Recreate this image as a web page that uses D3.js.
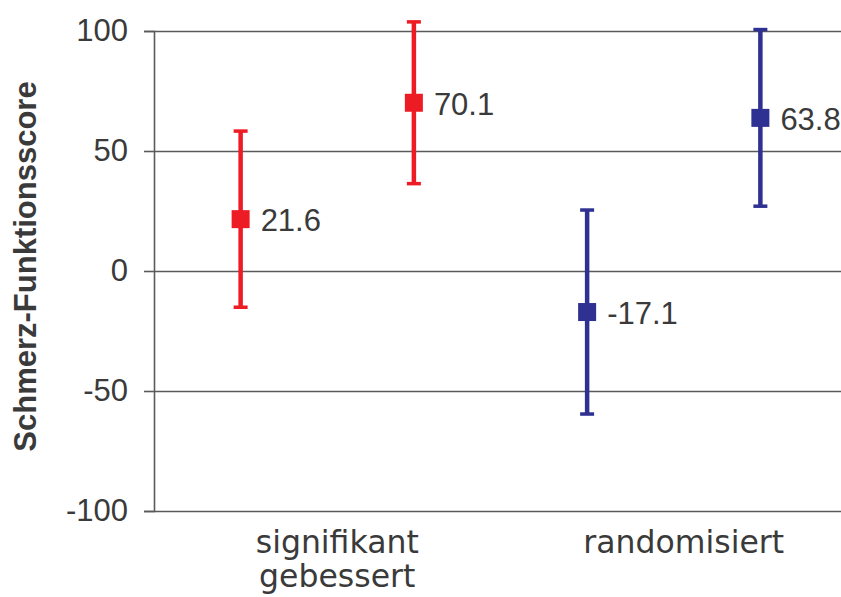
<!DOCTYPE html>
<html>
<head>
<meta charset="utf-8">
<script src="https://cdn.jsdelivr.net/npm/d3@7"></script>
<style>
  html, body { margin: 0; padding: 0; background: #fff; }
  svg { display: block; }
</style>
</head>
<body>
<svg id="chart" width="841" height="597"></svg>
<script>
// ---- data ----
const categories = ["signifikant gebessert", "randomisiert"];
const categoryLines = [["signifikant", "gebessert"], ["randomisiert"]];
const pointCategory = [0, 0, 1, 1];
const pointSlot = [0, 1, 0, 1];
const values = [21.6, 70.1, -17.1, 63.8];
const lower = [-15.1, 36.4, -59.6, 27.0];
const upper = [58.3, 103.8, 25.4, 100.6];
const pointColors = ["#ED1C24", "#ED1C24", "#2E3192", "#2E3192"];
const yTicks = [-100, -50, 0, 50, 100];
const yTitle = "Schmerz-Funktionsscore";

// ---- layout ----
const svg = d3.select("#chart");
const mLeft = 154, mRight = 847, mTop = 31, mBottom = 511;
const textColor = "#3a3a3a";
const gridColor = "#5a5a5a";
const hyphen = s => s.replace("\u2212", "-");

const y = d3.scaleLinear().domain([-100, 100]).range([mBottom, mTop]);
const x0 = d3.scaleBand().domain(categories).range([mLeft, mRight]);
const x1 = d3.scalePoint().domain([0, 1]).range([0, x0.bandwidth()]).padding(0.5);
const px = i => x0(categories[pointCategory[i]]) + x1(pointSlot[i]);

// gridlines + y axis
const yAxis = d3.axisLeft(y).tickValues(yTicks).tickSize(10).tickPadding(16)
  .tickFormat(d => hyphen(d3.format("d")(d)));
const gy = svg.append("g").attr("transform", `translate(${mLeft},0)`).call(yAxis);
gy.select(".domain").attr("stroke", gridColor).attr("stroke-width", 1.6);
gy.selectAll(".tick line").attr("stroke", gridColor).attr("stroke-width", 1.6);
gy.selectAll(".tick text")
  .attr("fill", textColor)
  .style("font-family", "'Liberation Sans', Arial, Helvetica, sans-serif")
  .style("font-size", "31px");
gy.selectAll(".tick").append("line")
  .attr("x1", 0).attr("x2", 841 - mLeft)
  .attr("stroke", gridColor).attr("stroke-width", 1.6);

// y title
svg.append("text")
  .attr("transform", `translate(36,${(80 + 453) / 2}) rotate(-90)`)
  .attr("text-anchor", "middle")
  .attr("fill", textColor)
  .style("font-family", "'Liberation Sans', Arial, Helvetica, sans-serif")
  .style("font-weight", "bold")
  .style("font-size", "31px")
  .text(yTitle);

// category labels
const cat = svg.append("g");
categories.forEach((c, ci) => {
  const cx = x0(c) + x0.bandwidth() / 2 + 10;
  const t = cat.append("text")
    .attr("x", cx)
    .attr("y", 553)
    .attr("text-anchor", "middle")
    .attr("fill", textColor)
    .style("font-family", "'DejaVu Sans', Verdana, sans-serif")
    .style("font-size", "31.5px");
  categoryLines[ci].forEach((ln, li) => {
    t.append("tspan")
      .attr("x", cx)
      .attr("dy", li === 0 ? 0 : 34)
      .text(ln);
  });
});

// error bars
const idx = d3.range(values.length);
const eb = svg.append("g");
eb.selectAll("line.v").data(idx).join("line").attr("class", "v")
  .attr("x1", px).attr("x2", px)
  .attr("y1", i => y(upper[i])).attr("y2", i => y(lower[i]))
  .attr("stroke", i => pointColors[i]).attr("stroke-width", 4.5);
eb.selectAll("line.top").data(idx).join("line").attr("class", "top")
  .attr("x1", i => px(i) - 7).attr("x2", i => px(i) + 7)
  .attr("y1", i => y(upper[i])).attr("y2", i => y(upper[i]))
  .attr("stroke", i => pointColors[i]).attr("stroke-width", 3.5);
eb.selectAll("line.bot").data(idx).join("line").attr("class", "bot")
  .attr("x1", i => px(i) - 7).attr("x2", i => px(i) + 7)
  .attr("y1", i => y(lower[i])).attr("y2", i => y(lower[i]))
  .attr("stroke", i => pointColors[i]).attr("stroke-width", 3.5);

// markers
svg.append("g").selectAll("rect").data(idx).join("rect")
  .attr("x", i => px(i) - 9).attr("y", i => y(values[i]) - 9)
  .attr("width", 18).attr("height", 18)
  .attr("fill", i => pointColors[i]);

// value labels
svg.append("g").selectAll("text").data(idx).join("text")
  .attr("x", i => px(i) + 20)
  .attr("y", i => y(values[i]) + 12)
  .attr("fill", textColor)
  .style("font-family", "'Liberation Sans', Arial, Helvetica, sans-serif")
  .style("font-size", "31px")
  .text(i => hyphen(d3.format(".1f")(values[i])));
</script>
</body>
</html>
